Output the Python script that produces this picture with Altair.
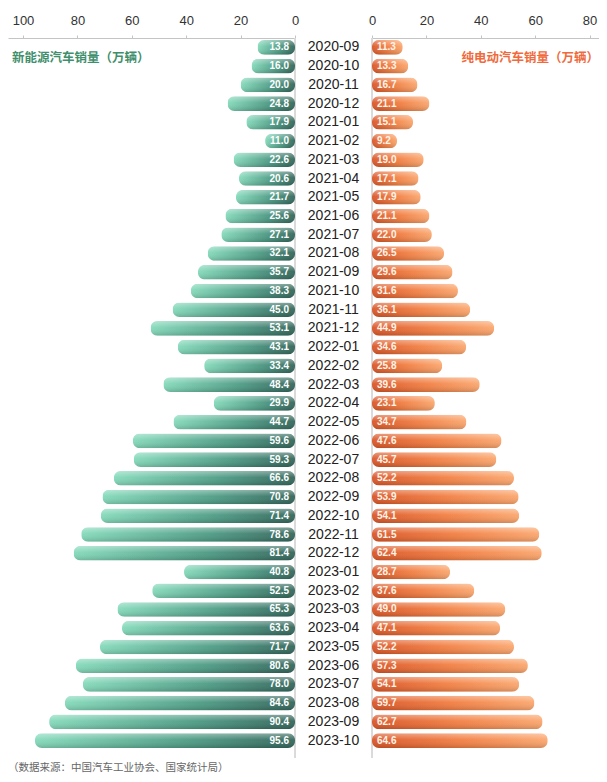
import altair as alt
import pandas as pd

months = ["2020-09", "2020-10", "2020-11", "2020-12",
          "2021-01", "2021-02", "2021-03", "2021-04", "2021-05", "2021-06",
          "2021-07", "2021-08", "2021-09", "2021-10", "2021-11", "2021-12",
          "2022-01", "2022-02", "2022-03", "2022-04", "2022-05", "2022-06",
          "2022-07", "2022-08", "2022-09", "2022-10", "2022-11", "2022-12",
          "2023-01", "2023-02", "2023-03", "2023-04", "2023-05", "2023-06",
          "2023-07", "2023-08", "2023-09", "2023-10"]
nev = [13.8, 16.0, 20.0, 24.8,
       17.9, 11.0, 22.6, 20.6, 21.7, 25.6, 27.1, 32.1, 35.7, 38.3, 45.0, 53.1,
       43.1, 33.4, 48.4, 29.9, 44.7, 59.6, 59.3, 66.6, 70.8, 71.4, 78.6, 81.4,
       40.8, 52.5, 65.3, 63.6, 71.7, 80.6, 78.0, 84.6, 90.4, 95.6]
bev = [11.3, 13.3, 16.7, 21.1,
       15.1, 9.2, 19.0, 17.1, 17.9, 21.1, 22.0, 26.5, 29.6, 31.6, 36.1, 44.9,
       34.6, 25.8, 39.6, 23.1, 34.7, 47.6, 45.7, 52.2, 53.9, 54.1, 61.5, 62.4,
       28.7, 37.6, 49.0, 47.1, 52.2, 57.3, 54.1, 59.7, 62.7, 64.6]
left_ticks = [0, 20, 40, 60, 80, 100]
right_ticks = [0, 20, 40, 60, 80]
left_title = "新能源汽车销量（万辆）"
right_title = "纯电动汽车销量（万辆）"
source = "（数据来源：中国汽车工业协会、国家统计局）"

df = pd.DataFrame({"month": months, "nev": nev, "bev": bev})

H = 712
WL, WC, WR = 287, 77, 227
PX = 2.72
CJK = "Noto Sans CJK SC"
LAT = "Liberation Sans"

y_enc = alt.Y("month:N", sort=months, axis=None,
              scale=alt.Scale(paddingInner=0.22, paddingOuter=0.11))

axis_common = dict(orient="top", title=None, grid=False, labelFlush=False,
                   labelOverlap=False, domainColor="#c4c4c4", tickColor="#c4c4c4",
                   tickSize=3, labelFontSize=13, labelColor="#333",
                   labelFont=LAT, labelPadding=8)

green_grad = alt.LinearGradient(gradient="linear", x1=0, y1=0, x2=1, y2=0,
                                stops=[alt.GradientStop(color="#84dabb", offset=0),
                                       alt.GradientStop(color="#4c9a83", offset=0.6),
                                       alt.GradientStop(color="#33665b", offset=1)])
orange_grad = alt.LinearGradient(gradient="linear", x1=0, y1=0, x2=1, y2=0,
                                 stops=[alt.GradientStop(color="#db5626", offset=0),
                                        alt.GradientStop(color="#f27e42", offset=0.5),
                                        alt.GradientStop(color="#fba66d", offset=1)])
gloss = alt.LinearGradient(gradient="linear", x1=0, y1=0, x2=0, y2=1,
                           stops=[alt.GradientStop(color="rgba(255,255,255,0.4)", offset=0),
                                  alt.GradientStop(color="rgba(255,255,255,0.05)", offset=0.45),
                                  alt.GradientStop(color="rgba(0,0,0,0.16)", offset=1)])

base_l = alt.Chart(df)
xl = alt.X("nev:Q", scale=alt.Scale(domain=[0, WL / PX], reverse=True, nice=False, zero=True),
           axis=alt.Axis(values=left_ticks, **axis_common))
left = alt.layer(
    base_l.mark_rule(color="#dadada", strokeWidth=1).encode(
        x=alt.datum(0), y=alt.value(0), y2=alt.value(H + 8)),
    base_l.mark_bar(cornerRadius=7, color=green_grad).encode(x=xl, y=y_enc),
    base_l.mark_bar(cornerRadius=7, color=gloss).encode(x="nev:Q", y=y_enc),
    base_l.mark_text(align="right", baseline="middle", dx=-6, color="white",
                     fontSize=10, fontWeight="bold", font=LAT).encode(
        x=alt.datum(0), y=y_enc, text=alt.Text("nev:Q", format=".1f")),
    alt.Chart(pd.DataFrame({"t": [left_title]})).mark_text(
        align="left", baseline="middle", color="#3f8f6c", fontSize=12.5,
        fontWeight="bold", font=CJK).encode(
        x=alt.value(4), y=alt.value(20), text="t:N"),
    alt.Chart(pd.DataFrame({"t": [source]})).mark_text(
        align="left", baseline="middle", color="#666", fontSize=10.5, font=CJK).encode(
        x=alt.value(0), y=alt.value(H + 18), text="t:N"),
).properties(width=WL, height=H)

center = alt.Chart(df).mark_text(fontSize=14, color="#222", font=LAT).encode(
    x=alt.value(WC / 2), y=y_enc, text="month:N"
).properties(width=WC, height=H)

base_r = alt.Chart(df)
xr = alt.X("bev:Q", scale=alt.Scale(domain=[0, WR / PX], nice=False, zero=True),
           axis=alt.Axis(values=right_ticks, **axis_common))
right = alt.layer(
    base_r.mark_rule(color="#dadada", strokeWidth=1).encode(
        x=alt.datum(0), y=alt.value(0), y2=alt.value(H + 8)),
    base_r.mark_bar(cornerRadius=7, color=orange_grad).encode(x=xr, y=y_enc),
    base_r.mark_bar(cornerRadius=7, color=gloss).encode(x="bev:Q", y=y_enc),
    base_r.mark_text(align="left", baseline="middle", dx=5, color="#fff4ea",
                     fontSize=10, fontWeight="bold", font=LAT).encode(
        x=alt.datum(0), y=y_enc, text=alt.Text("bev:Q", format=".1f")),
    alt.Chart(pd.DataFrame({"t": [right_title]})).mark_text(
        align="right", baseline="middle", color="#ef6a3c", fontSize=12.5,
        fontWeight="bold", font=CJK).encode(
        x=alt.value(WR), y=alt.value(20), text="t:N"),
).properties(width=WR, height=H)

chart = alt.hconcat(left, center, right, spacing=0, bounds="flush").properties(
    padding={"left": 0, "right": 0, "top": 6, "bottom": 0}
).configure_view(stroke=None)

chart.save("out.html", embed_options={"renderer": "svg", "actions": False})
